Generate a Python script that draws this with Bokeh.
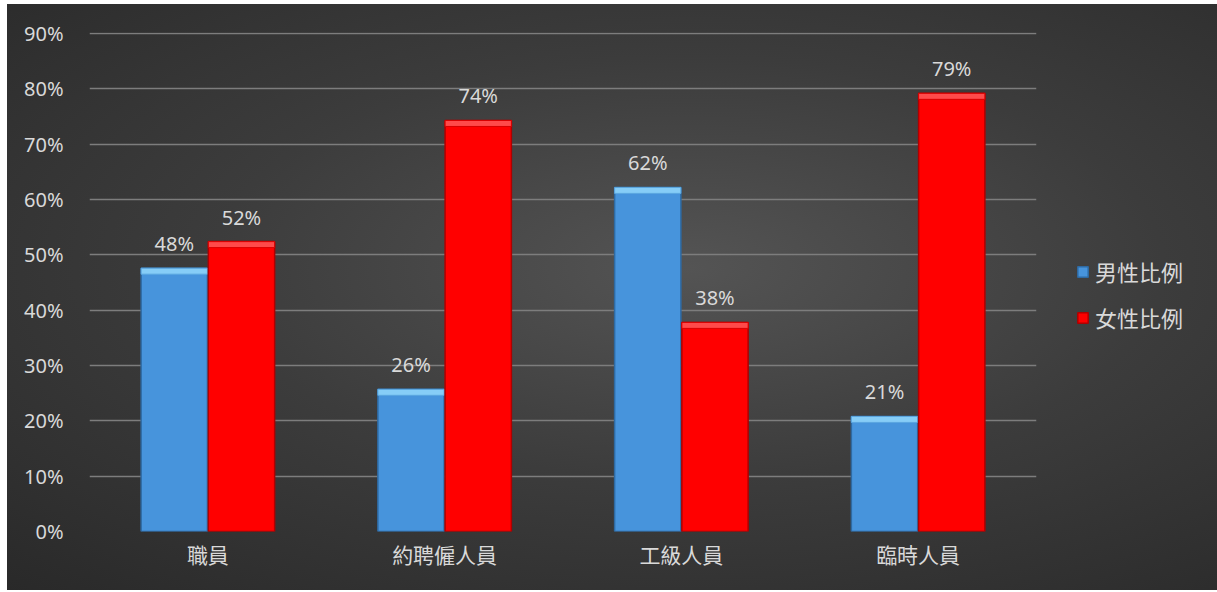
from bokeh.plotting import figure
from bokeh.models import (ColumnDataSource, Range1d, FactorRange, NumeralTickFormatter,
                          Legend, LegendItem, FixedTicker)
from bokeh.transform import dodge
from bokeh.core.properties import value
from bokeh.embed import file_html
from bokeh.resources import INLINE

categories = ["職員", "約聘僱人員", "工級人員", "臨時人員"]
male = [0.476, 0.257, 0.622, 0.208]
female = [0.524, 0.743, 0.378, 0.792]
series_names = ["男性比例", "女性比例"]
y_ticks = [0, 0.1, 0.2, 0.3, 0.4, 0.5, 0.6, 0.7, 0.8, 0.9]

PX = 553.0  # pixels per unit on the y axis
cap = 6.0 / PX

src = ColumnDataSource(dict(
    cat=categories,
    male=male, female=female,
    male_cap=[v - cap for v in male], female_cap=[v - cap for v in female],
    male_lbl=["%d%%" % round(v * 100) for v in male],
    female_lbl=["%d%%" % round(v * 100) for v in female],
))

p = figure(x_range=FactorRange(*categories), y_range=Range1d(0, 0.902),
           frame_width=947, frame_height=499,
           min_border_left=82, min_border_top=28, min_border_bottom=59, min_border_right=180,
           output_backend="svg", toolbar_location=None)
p.styles = {"background": "radial-gradient(ellipse 65% 80% at 42% 45%, #545454 0%, #3c3c3c 45%, #272727 100%)",
            "margin-left": "7px", "margin-top": "4px"}
p.background_fill_alpha = 0
p.border_fill_alpha = 0
p.outline_line_alpha = 0

p.xgrid.grid_line_color = None
p.ygrid.grid_line_color = "#7d7d7d"
p.ygrid.grid_line_width = 1.5
p.yaxis.ticker = FixedTicker(ticks=y_ticks)
p.yaxis.formatter = NumeralTickFormatter(format="0%")
for ax in (p.xaxis, p.yaxis):
    ax.axis_line_color = None
    ax.major_tick_line_color = None
    ax.minor_tick_line_color = None
    ax.major_label_text_color = "#d9d9d9"
p.yaxis.major_label_text_font = "Noto Sans"
p.yaxis.major_label_text_font_size = "20px"
p.yaxis.major_label_standoff = 20
p.xaxis.major_label_text_font = "Noto Sans CJK TC"
p.xaxis.major_label_text_font_size = "21px"
p.xaxis.major_label_standoff = 1

W = 0.28
D = 0.142
rm = p.vbar(x=dodge("cat", -D, range=p.x_range), top="male", bottom=0, width=W, source=src,
            fill_color="#4794dc", line_color="#2e6aa3", line_width=1.5)
p.vbar(x=dodge("cat", -D, range=p.x_range), top="male", bottom="male_cap", width=W, source=src,
       fill_color="#86cdf7", line_color="#5aa6e0", line_width=1)
rf = p.vbar(x=dodge("cat", D, range=p.x_range), top="female", bottom=0, width=W, source=src,
            fill_color="#ff0000", line_color="#b00000", line_width=1.5)
p.vbar(x=dodge("cat", D, range=p.x_range), top="female", bottom="female_cap", width=W, source=src,
       fill_color="#ff4a4a", line_color="#d80000", line_width=1)

for col, lbl, off in (("male", "male_lbl", -D), ("female", "female_lbl", D)):
    p.text(x=dodge("cat", off, range=p.x_range), y=col, text=lbl, source=src,
           text_align="center", text_baseline="bottom", y_offset=-11,
           text_color="#d9d9d9", text_font=value("Noto Sans"), text_font_size="20px")

legend = Legend(items=[LegendItem(label=series_names[0], renderers=[rm]),
                       LegendItem(label=series_names[1], renderers=[rf])],
                location=(40, 198), padding=0, spacing=14, margin=0,
                glyph_width=13, glyph_height=13, label_standoff=6,
                label_text_font="Noto Sans CJK TC", label_text_font_size="22px",
                label_text_color="#d9d9d9",
                background_fill_alpha=0, border_line_alpha=0)
p.add_layout(legend, "right")

open("out.html", "w").write(file_html(p, INLINE))
